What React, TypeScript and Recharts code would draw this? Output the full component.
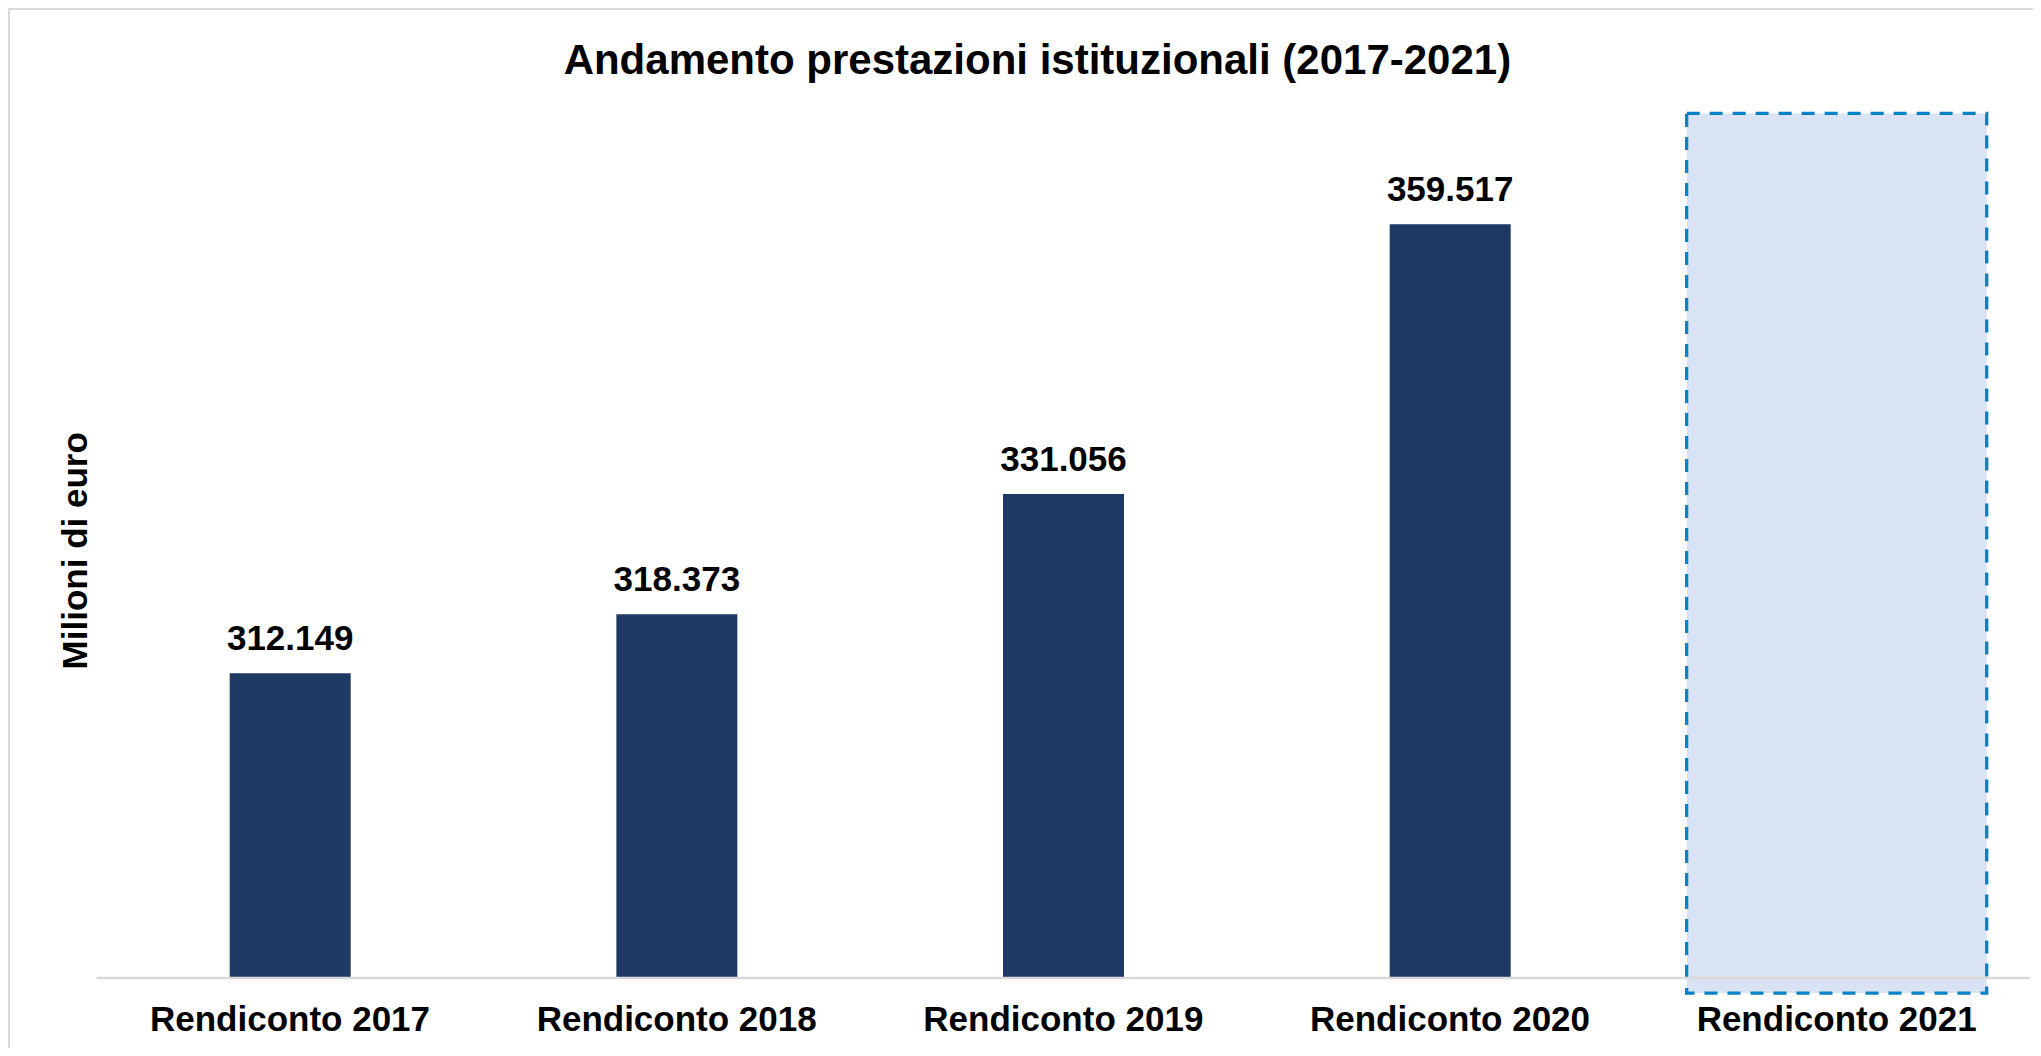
import React from "react";
import { Bar, BarChart, XAxis, YAxis, LabelList, ReferenceArea } from "recharts";

const categories = ["Rendiconto 2017", "Rendiconto 2018", "Rendiconto 2019", "Rendiconto 2020", "Rendiconto 2021"];
const prestazioni = [312149, 318373, 331056, 359517, null];
const yDomain = [280000, 380000];
// the dashed placeholder box drawn on the 2021 slot
const box2021 = { category: "Rendiconto 2021", from: 278400, to: 371200 };

const data = categories.map((c, i) => ({ category: c, value: prestazioni[i] }));

const FONT = '"Liberation Sans", Arial, sans-serif';

function formatIt(v: number) {
    return String(v).replace(/\B(?=(\d{3})+(?!\d))/g, ".");
}

const CategoryTick = (props: any) => {
    const { x, y, payload } = props;
    return (
        <text x={x} y={y + 53} textAnchor="middle" fontFamily={FONT} fontWeight="bold" fontSize={35} fill="#000">
            {payload.value}
        </text>
    );
};

const ValueLabel = (props: any) => {
    const { x, y, width, value } = props;
    if (value == null) return null;
    return (
        <text x={x + width / 2} y={y - 23} textAnchor="middle" fontFamily={FONT} fontWeight="bold" fontSize={35} fill="#000">
            {formatIt(value)}
        </text>
    );
};

const DashedBox = (props: any) => {
    const { x, y, width, height } = props;
    const inset = width * 0.112;
    return (
        <rect
            x={x + inset}
            y={y}
            width={width - 2 * inset}
            height={height}
            fill="#dae3f3"
            stroke="#0583c6"
            strokeWidth={3.3}
            strokeDasharray="13 10"
        />
    );
};

export default function App() {
    return (
        <div style={{ position: "relative", width: 2033, height: 1040 }}>
            <div
                style={{
                    position: "absolute",
                    left: 0,
                    top: 0,
                    width: 2033,
                    height: 1040,
                    borderTop: "2px solid #d9d9d9",
                    borderLeft: "2px solid #d9d9d9",
                    boxSizing: "border-box",
                }}
            />
            <div style={{ position: "absolute", left: 0, top: 0 }}>
                <BarChart width={2033} height={1040} data={data} margin={{ top: 22, right: 11, bottom: 10, left: 88.7 }}>
                    <XAxis
                        dataKey="category"
                        height={60}
                        interval={0}
                        tickLine={false}
                        tickSize={0}
                        tickMargin={0}
                        axisLine={{ stroke: "#d9d9d9", strokeWidth: 2.5 }}
                        tick={<CategoryTick />}
                    />
                    <YAxis hide domain={yDomain} allowDataOverflow />
                    <Bar dataKey="value" fill="#1f3864" barSize={121} isAnimationActive={false}>
                        <LabelList dataKey="value" content={<ValueLabel />} />
                    </Bar>
                    <ReferenceArea
                        x1={box2021.category}
                        x2={box2021.category}
                        y1={box2021.from}
                        y2={box2021.to}
                        ifOverflow="visible"
                        shape={<DashedBox />}
                    />
                </BarChart>
            </div>
            <svg width={2033} height={1040} style={{ position: "absolute", left: 0, top: 0, pointerEvents: "none" }}>
                <text x={1029.4} y={66} textAnchor="middle" fontFamily={FONT} fontWeight="bold" fontSize={42} fill="#000">
                    Andamento prestazioni istituzionali (2017-2021)
                </text>
                <text
                    x={78.7}
                    y={542.8}
                    transform="rotate(-90, 78.7, 542.8)"
                    textAnchor="middle"
                    fontFamily={FONT}
                    fontWeight="bold"
                    fontSize={35}
                    fill="#000"
                >
                    Milioni di euro
                </text>
            </svg>
        </div>
    );
}
